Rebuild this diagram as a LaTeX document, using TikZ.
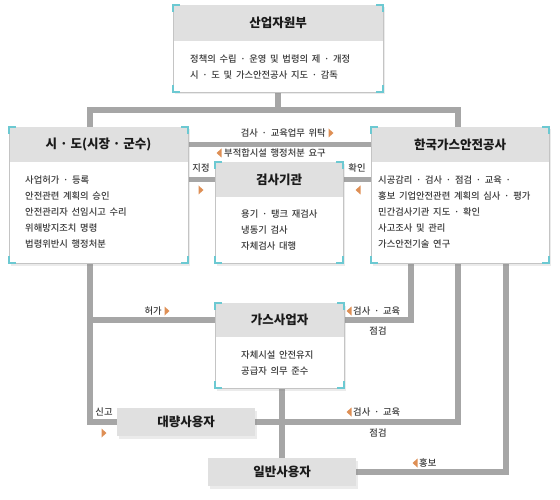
\documentclass[tikz,border=0pt]{standalone}
\usepackage{fontspec}
\setmainfont{Noto Sans CJK KR}
\newfontfamily\medfont{Noto Sans CJK KR Medium}
\usetikzlibrary{shadows,backgrounds,calc}
\newcommand\widesp{\spaceskip=3.7pt\relax}
\definecolor{linegray}{HTML}{A6A6A6}
\definecolor{headgray}{HTML}{E0E0E0}
\definecolor{bordergray}{HTML}{C4C4C4}
\definecolor{cyanc}{HTML}{6CC9D2}
\definecolor{orangec}{HTML}{DE8F55}
\definecolor{txt}{HTML}{3A3A3A}
\definecolor{titletxt}{HTML}{1A1A1A}
\tikzset{
 panel/.style={draw=bordergray, line width=0.8pt, fill=white, outer sep=0pt, inner sep=0pt,
   drop shadow={opacity=0.16, shadow xshift=2pt, shadow yshift=-2.5pt}},
 headbar/.style={fill=headgray, outer sep=0pt, inner sep=0pt,
   font=\fontsize{12.5}{14}\selectfont\bfseries, text=titletxt},
 plainbox/.style={fill=headgray, outer sep=0pt, inner sep=0pt,
   font=\fontsize{12.5}{14}\selectfont\bfseries, text=titletxt,
   drop shadow={opacity=0.16, shadow xshift=2pt, shadow yshift=-2.5pt}},
 bodytext/.style={inner sep=0pt, align=left, anchor=west,
   font=\medfont\fontsize{9.3}{16}\selectfont, execute at begin node=\widesp, text=txt},
 lbl/.style={inner sep=0pt, font=\medfont\fontsize{9.3}{12}\selectfont, execute at begin node=\widesp, text=txt},
 conn/.style={draw=linegray, line width=5.5pt},
 rtri/.pic={\fill[orangec] (-2.5,-4.5) -- (2.5,0) -- (-2.5,4.5) -- cycle;},
 ltri/.pic={\fill[orangec] (2.5,-4.5) -- (-2.5,0) -- (2.5,4.5) -- cycle;},
}
\newcommand\cmarks[1]{%
 \draw[cyanc, line width=2pt] ([yshift=-7pt]#1.north west) -- (#1.north west) -- ([xshift=7pt]#1.north west);
 \draw[cyanc, line width=2pt] ([yshift=-7pt]#1.north east) -- (#1.north east) -- ([xshift=-7pt]#1.north east);
 \draw[cyanc, line width=2pt] ([yshift=7pt]#1.south west) -- (#1.south west) -- ([xshift=7pt]#1.south west);
 \draw[cyanc, line width=2pt] ([yshift=7pt]#1.south east) -- (#1.south east) -- ([xshift=-7pt]#1.south east);
}
\begin{document}
\begin{tikzpicture}[x=1pt,y=-1pt]
\useasboundingbox (0,0) rectangle (560,500);
% top box
\node[panel, minimum width=210pt, minimum height=87pt] (mke) at (278,48.5) {};
\node[headbar, minimum width=209pt, minimum height=35.6pt, anchor=north] (mkeh) at ([yshift=-0.4pt]mke.north) {산업자원부};
\node[bodytext] (mkeb) at (190,67) {정책의 수립 · 운영 및 법령의 제 · 개정\\시 · 도 및 가스안전공사 지도 · 감독};
\cmarks{mke}
% si-do
\node[panel, minimum width=179pt, minimum height=136pt] (sido) at (98.5,195) {};
\node[headbar, minimum width=178pt, minimum height=34.6pt, anchor=north] (sidoh) at ([yshift=-0.4pt]sido.north) {시 · 도(시장 · 군수)};
\node[bodytext] (sidob) at (25,212) {사업허가 · 등록\\안전관련 계획의 승인\\안전관리자 선임시고 수리\\위해방지조치 명령\\법령위반시 행정처분};
\cmarks{sido}
% KGS
\node[panel, minimum width=178pt, minimum height=136pt] (ksc) at (460,195) {};
\node[headbar, minimum width=177pt, minimum height=34.6pt, anchor=north] (ksch) at ([yshift=-0.4pt]ksc.north) {한국가스안전공사};
\node[bodytext] (kscb) at (378,212) {시공감리 · 검사 · 점검 · 교육 ·\\홍보 기업안전관련 계획의 심사 · 평가\\민간검사기관 지도 · 확인\\사고조사 및 관리\\가스안전기술 연구};
\cmarks{ksc}
% inspection body
\node[panel, minimum width=128pt, minimum height=101pt] (insp) at (279,212.5) {};
\node[headbar, minimum width=127pt, minimum height=34.6pt, anchor=north] (insph) at ([yshift=-0.4pt]insp.north) {검사기관};
\node[bodytext] (inspb) at (241,230) {용기 · 탱크 재검사\\냉동기 검사\\자체검사 대행};
\cmarks{insp}
% gas business
\node[panel, minimum width=129pt, minimum height=85pt] (gas) at (279.5,345.5) {};
\node[headbar, minimum width=128pt, minimum height=33.6pt, anchor=north] (gash) at ([yshift=-0.4pt]gas.north) {가스사업자};
\node[bodytext] (gasb) at (241,363.5) {자체시설 안전유지\\공급자 의무 준수};
\cmarks{gas}
% users
\node[plainbox, minimum width=138pt, minimum height=28pt] (bulk) at (186,422) {대량사용자};
\node[plainbox, minimum width=148pt, minimum height=28pt] (gen) at (282,472) {일반사용자};
% connectors
\begin{scope}[on background layer]
\draw[conn] ([xshift=81pt]sido.north west) |- ([yshift=-18pt]mke.south) -| ([xshift=87pt]ksc.north west);
\draw[conn] (mke.south) -- ([yshift=-18.5pt]mke.south);
\draw[conn] (sidoh.east) -- (ksch.west);
\draw[conn] (sido.east |- insph.west) -- (insph.west);
\draw[conn] (insph.east) -- (ksc.west |- insph.east);
\coordinate (sx) at ([xshift=81pt]sido.south west);
\draw[conn] (sx) |- (bulk.west);
\draw[conn] (gash.west) -- (gash.west -| sx);
\draw[conn] ([xshift=40pt]ksc.south west) |- (gash.east);
\draw[conn] ([xshift=87pt]ksc.south west) |- (bulk.east);
\draw[conn] ([xshift=135pt]ksc.south west) |- (gen.east);
\draw[conn] (gen.north |- gas.south) -- (gen.north);
\end{scope}
% labels
\node[lbl, anchor=east] (l1) at (326,133) {검사 · 교육업무 위탁}; \pic at (331,133) {rtri};
\pic at (219,153) {ltri}; \node[lbl, anchor=west] (l2) at (224,153) {부적합시설 행정처분 요구};
\node[lbl] (l3) at (201,168) {지정}; \pic at (201,190) {rtri};
\node[lbl] (l4) at (357,168) {확인}; \pic at (358,190) {ltri};
\node[lbl, anchor=east] (l5) at (162,311) {허가}; \pic at (167,311) {rtri};
\pic at (349,311) {ltri}; \node[lbl, anchor=west] (l6) at (353,311) {검사 · 교육};
\node[lbl] (l7) at (378,331) {점검};
\node[lbl] (l8) at (104,412) {신고}; \pic at (104,433) {rtri};
\pic at (349,412) {ltri}; \node[lbl, anchor=west] (l9) at (353,412) {검사 · 교육};
\node[lbl] (l10) at (378,433) {점검};
\pic at (415,463) {ltri}; \node[lbl, anchor=west] (l11) at (419,463) {홍보};
\end{tikzpicture}
\end{document}
